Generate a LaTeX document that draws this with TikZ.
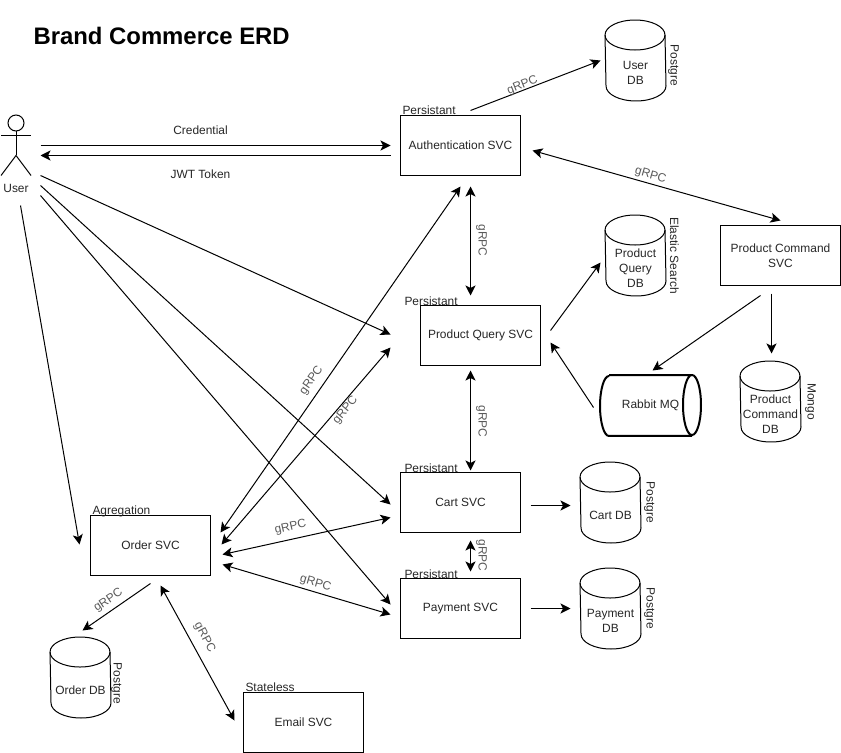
\documentclass[tikz,border=0pt]{standalone}
\usepackage{fontspec}
\setmainfont{Liberation Sans}
\usetikzlibrary{arrows.meta,positioning,calc}

\begin{document}
\begin{tikzpicture}[
  x=0.02cm, y=-0.02cm,
  line width=0.02cm,
  txt/.style={font=\fontsize{6.8pt}{8pt}\selectfont, text=black!85, inner sep=0pt},
  svc/.style={rectangle, draw=black, minimum width=2.4cm, minimum height=1.2cm,
    inner sep=0pt, align=center, font=\fontsize{6.8pt}{8.4pt}\selectfont, text=black!85},
  db/.style={rectangle, minimum width=1.2cm, minimum height=1.1cm, inner sep=0pt, align=center,
    font=\fontsize{6.8pt}{8.4pt}\selectfont, text=black!85},
  mq/.style={rectangle, minimum width=2cm, minimum height=1.2cm, inner sep=0pt,
    font=\fontsize{6.8pt}{8.4pt}\selectfont, text=black!85},
  tag/.style={txt, anchor=south west},
  side/.style={txt, rotate=-90},
  lbl/.style={txt, text=black!65},
  arr/.style={-{Stealth[length=2mm, width=2mm, inset=0.5mm]}},
  biarr/.style={{Stealth[length=2mm, width=2mm, inset=0.5mm]}-{Stealth[length=2mm, width=2mm, inset=0.5mm]}},
]
\useasboundingbox (-0.5,-0.5) rectangle (840.5,752.5);
\node[font=\fontsize{13.6pt}{16pt}\selectfont\bfseries, anchor=west, inner sep=0pt] (title) at (32.5,35) {Brand Commerce ERD};

% actor
\coordinate (actor) at (15,145);
\node[circle, draw, minimum size=0.32cm, inner sep=0pt] (head) at (15.5,122.5) {};
\node[txt] (user) at (15.5,188) {User};
\coordinate (hip) at (15.5,155);
\draw (head.south) -- (hip);
\draw (0.5,135) -- (30.5,135);
\draw (0.5,175) -- (hip) -- (30.5,175);

% services
\node[svc] (auth) at (460,145) {Authentication SVC};
\node[svc] (query) at (480,335) {Product Query SVC};
\node[svc] (cart) at (460,502) {Cart SVC};
\node[svc] (pay) at (460,608) {Payment SVC};
\node[svc] (order) at (150,545) {Order SVC};
\node[svc] (email) at (303,722) {Email SVC};
\node[svc] (command) at (780,255) {Product Command\\SVC};

% stores
\node[db] (userdb) at (635,72.5) {User\\DB};
\node[db] (querydb) at (635,267.5) {Product\\Query\\DB};
\node[db] (commanddb) at (770,413.5) {Product\\Command\\DB};
\node[db] (cartdb) at (610,514.5) {Cart DB};
\node[db] (paydb) at (610,620.5) {Payment\\DB};
\node[db] (orderdb) at (80,689.5) {Order DB};
\foreach \n in {userdb,querydb,commanddb,cartdb,paydb,orderdb} {
  \draw ([yshift=0.2cm]\n.north west) arc[start angle=180, end angle=0, x radius=0.6cm, y radius=0.3cm]
    -- ([yshift=0.3cm]\n.south east) arc[start angle=0, end angle=-180, x radius=0.6cm, y radius=0.3cm] -- cycle;
  \draw ([yshift=0.2cm]\n.north west) arc[start angle=180, end angle=360, x radius=0.6cm, y radius=0.3cm];
}
\node[mq] (rabbit) at (650,405) {Rabbit MQ};
\draw[line width=0.04cm] ([xshift=0.18cm]rabbit.north west) -- ([xshift=-0.18cm]rabbit.north east)
  arc[start angle=90, end angle=-270, x radius=0.18cm, y radius=0.6cm]
  ([xshift=-0.18cm]rabbit.south east) -- ([xshift=0.18cm]rabbit.south west)
  arc[start angle=270, end angle=90, x radius=0.18cm, y radius=0.6cm];

% tags
\node[tag] at ([xshift=0.04cm]auth.north west) {Persistant};
\node[tag] at ([xshift=-0.32cm,yshift=-0.02cm]query.north west) {Persistant};
\node[tag] at ([xshift=0.08cm,yshift=-0.02cm]cart.north west) {Persistant};
\node[tag] at ([xshift=0.08cm,yshift=-0.02cm]pay.north west) {Persistant};
\node[tag] at ([xshift=0.04cm,yshift=-0.04cm]order.north west) {Agregation};
\node[tag] at ([xshift=0.04cm]email.north west) {Stateless};
\node[side] at (673,65) {Postgre};
\node[side] at (674,255) {Elastic Search};
\node[side] at (810,401) {Mongo};
\node[side] at (649,502) {Postgre};
\node[side] at (649,608) {Postgre};
\node[side] at (116,683) {Postgre};

% user links
\draw[arr] ($(actor)+(25,0)$) -- ($(auth)+(-70,0)$);
\draw[arr] ($(auth)+(-70,10)$) -- ($(actor)+(25,10)$);
\draw[arr] ($(actor)+(25,30)$) -- ($(query)+(-90,-1)$);
\draw[arr] ($(actor)+(25,40)$) -- ($(cart)+(-70,2)$);
\draw[arr] ($(actor)+(25,50)$) -- ($(pay)+(-70,-4)$);
\draw[arr] ($(actor)+(5,60)$) -- ($(order)+(-71,-1)$);
\node[txt] (credlbl) at (200,130) {Credential};
\node[txt] (jwtlbl) at (200,174) {JWT Token};

% grpc links
\draw[biarr] ($(auth)+(0,41)$) -- ($(order)+(70,-13)$);
\draw[biarr] ($(query)+(-90,12)$) -- ($(order)+(71,-1)$);
\draw[biarr] ($(order)+(72,9)$) -- ($(cart)+(-70,15)$);
\draw[biarr] ($(order)+(72,19)$) -- ($(pay)+(-70,6)$);
\draw[arr] ($(order)+(0,38)$) -- ($(orderdb)+(2,-59.5)$);
\draw[biarr] ($(order)+(10,40)$) -- ($(email)+(-69,-2)$);
\draw[biarr] ($(auth)+(72,5)$) -- ($(command)+(0,-35)$);
\draw[arr] ($(auth)+(10,-35)$) -- ($(userdb)+(-35,-12.5)$);
\draw[biarr] ($(auth)+(10,41)$) -- ($(query)+(-10,-40)$);
\draw[biarr] ($(query)+(-10,35)$) -- ($(cart)+(10,-32)$);
\draw[biarr] ($(cart)+(10,38)$) -- ($(pay)+(10,-37)$);
\node[lbl, rotate=55] at (311,380) {gRPC};
\node[lbl, rotate=50] at (345,410) {gRPC};
\node[lbl, rotate=13] at (290,527) {gRPC};
\node[lbl, rotate=-16] at (315,583) {gRPC};
\node[lbl, rotate=34] at (108,600) {gRPC};
\node[lbl, rotate=-62] at (204,637) {gRPC};
\node[lbl, rotate=-16] at (650,175) {gRPC};
\node[lbl, rotate=22] at (522,85) {gRPC};
\node[lbl, rotate=-90] at (481,240) {gRPC};
\node[lbl, rotate=-90] at (481,421) {gRPC};
\node[lbl, rotate=-90] at (481,555) {gRPC};

% other links
\draw[arr] ($(query)+(70,-5)$) -- ($(querydb)+(-35,-5.5)$);
\draw[arr] ($(rabbit)+(-57,2)$) -- ($(query)+(70,7)$);
\draw[arr] ($(command)+(-20,40)$) -- ($(rabbit)+(2,-35)$);
\draw[arr] ($(command)+(-9,38)$) -- ($(commanddb)+(1,-60.5)$);
\draw[arr] ($(cart)+(70,3)$) -- ($(cartdb)+(-40,-9.5)$);
\draw[arr] ($(pay)+(70,0)$) -- ($(paydb)+(-40,-12.5)$);
\end{tikzpicture}
\end{document}
